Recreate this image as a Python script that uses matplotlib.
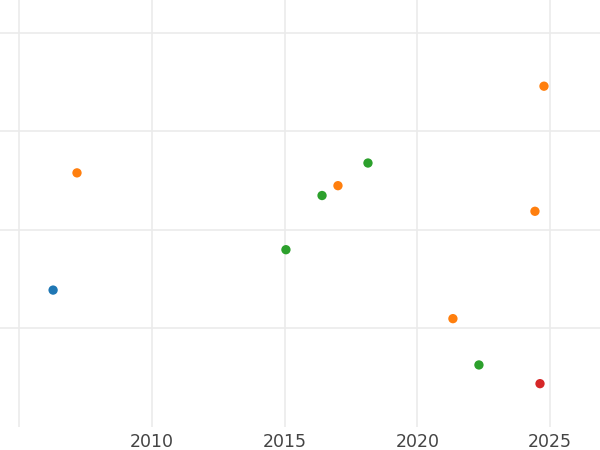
import matplotlib
matplotlib.use("Agg")
import matplotlib.pyplot as plt

# Data (y axis is unlabeled)
years = [2006.28, 2007.18, 2015.05, 2016.41, 2017.01, 2018.14,
         2024.77, 2024.43, 2021.34, 2022.32, 2024.62]
values = [1.39, 2.58, 1.80, 2.35, 2.45, 2.68,
          3.46, 2.19, 1.10, 0.63, 0.44]
groups = ["A", "B", "C", "C", "B", "C", "B", "B", "B", "C", "D"]
group_colors = {"A": "#1f77b4", "B": "#ff7f0e", "C": "#2ca02c", "D": "#d62728"}
xticks = [2010, 2015, 2020, 2025]

fig = plt.figure(figsize=(6, 4.5), dpi=100)
ax = fig.add_axes([0, 23 / 450, 1, 427 / 450])

colors = [group_colors[g] for g in groups]
ax.scatter(years, values, c=colors, s=45, edgecolors="none", zorder=3)

ax.set_xlim(2004.28, 2026.88)
ax.set_ylim(0, 4.335)
ax.set_xticks([2005] + xticks)
ax.set_xticklabels([""] + [str(t) for t in xticks])
ax.set_yticks([1, 2, 3, 4])
ax.set_yticklabels([])
ax.tick_params(length=0, labelsize=12.5, labelcolor="#444444", pad=4.5)
ax.grid(True, color="#ebebeb", linewidth=1.2)
ax.set_axisbelow(True)
for s in ax.spines.values():
    s.set_visible(False)

fig.savefig("out.png", dpi=100)
